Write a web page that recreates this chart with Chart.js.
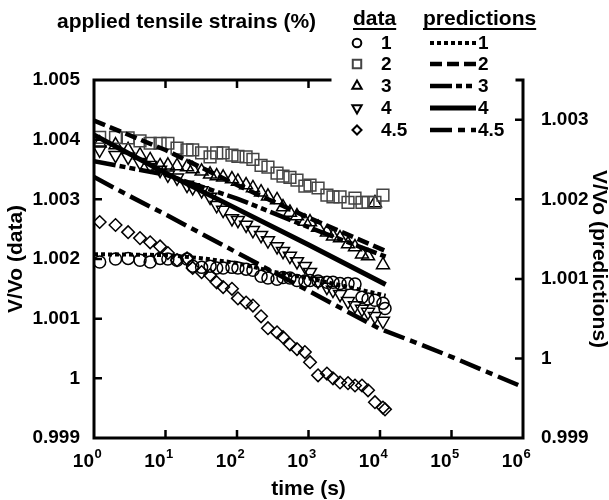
<!DOCTYPE html>
<html>
<head>
<meta charset="utf-8">
<script src="https://cdn.jsdelivr.net/npm/chart.js@4.4.0/dist/chart.umd.min.js"></script>
<style>
  html, body { margin: 0; padding: 0; background: #fff; }
  canvas { display: block; }
</style>
</head>
<body>
<canvas id="chart" width="609" height="500"></canvas>
<script>
// --- DATA ---
// measurement times (s), shared by all strain series
const times = [1.2, 2, 3, 4.4, 6.1, 8.4, 10.8, 14.5, 20, 24, 32, 42, 52, 64, 85, 103, 134, 167, 217, 271,
  363, 440, 550, 690, 890, 1050, 1360, 1810, 2200, 2760, 3570, 4470, 5600, 6800, 8500, 11000, 11750];

// measured V/Vo, left axis
const strain1 = [1.00195, 1.00200, 1.00201, 1.00198, 1.00195, 1.00201, 1.00200, 1.00198, 1.00200, 1.00188,
  1.00186, 1.00188, 1.00185, 1.00185, 1.00186, 1.00185, 1.00183, 1.00181, 1.00171, 1.00168,
  1.00166, 1.00169, 1.00168, 1.00164, 1.00163, 1.00164, 1.00163, 1.00161, 1.00161, 1.00159,
  1.00159, 1.00158, 1.00136, 1.00133, 1.00131, 1.00126, 1.00117];
const strain2 = [1.00404, 1.00404, 1.00403, 1.00398, 1.00394, 1.00394, 1.00394, 1.00386, 1.00383, 1.00383,
  1.00378, 1.00371, 1.00378, 1.00378, 1.00374, 1.00372, 1.00371, 1.00367, 1.00357, 1.00354,
  1.00344, 1.00339, 1.00337, 1.00332, 1.00322, 1.00324, 1.00319, 1.00307, 1.00304, 1.00304,
  1.00295, 1.00302, 1.00295, 1.00295, 1.00295, 1.00307, null];
const strain3 = [1.00394, 1.00391, 1.00383, 1.00374, 1.00366, 1.00356, 1.00357, 1.00356, 1.00354, 1.00351,
  1.00347, 1.00342, 1.00339, 1.00337, 1.00334, 1.00330, 1.00324, 1.00319, 1.00312, 1.00305,
  1.00299, 1.00287, 1.00278, 1.00272, 1.00263, 1.00262, 1.00253, 1.00245, 1.00238, 1.00235,
  1.00225, 1.00220, 1.00208, 1.00205, 1.00294, 1.00190, null];
const strain4 = [1.00383, 1.00374, 1.00371, 1.00362, 1.00357, 1.00349, 1.00341, 1.00336, 1.00324, 1.00320,
  1.00315, 1.00304, 1.00290, 1.00282, 1.00268, 1.00265, 1.00257, 1.00248, 1.00240, 1.00231,
  1.00221, 1.00213, 1.00205, 1.00196, 1.00188, 1.00178, 1.00163, 1.00153, 1.00148, 1.00141,
  1.00129, 1.00122, 1.00116, 1.00111, 1.00104, 1.00096, null];
const strain45 = [1.00262, 1.00257, 1.00245, 1.00235, 1.00228, 1.00221, 1.00210, 1.00198, 1.00201, 1.00185,
  1.00178, 1.00173, 1.00161, 1.00153, 1.00150, 1.00134, 1.00127, 1.00122, 1.00104, 1.00084,
  1.00077, 1.00069, 1.00057, 1.00049, 1.00044, 1.00027, 1.00005, 1.00008, 1.00000, 0.99993,
  0.99992, 0.99988, 0.99988, 0.99980, 0.99960, 0.99951, 0.99948];

// predicted V/Vo, right axis
const predTimes1 = [1, 10, 31.6, 100, 316, 1000, 3160, 12000];
const pred1 = [1.00131, 1.00130, 1.00126, 1.00120, 1.00109, 1.00101, 1.00091, 1.00079];
const predTimes = [1, 10, 100, 1000, 12000];
const pred2 = [1.00299, 1.00262, 1.00218, 1.00177, 1.00135];
const pred3 = [1.00248, 1.00231, 1.00201, 1.00165, 1.00128];
const pred4 = [1.00281, 1.00233, 1.00188, 1.00143, 1.00093];
const predTimes45 = [1, 3.16, 10, 31.6, 100, 316, 1000, 3160, 10000, 31600, 100000, 316000, 1000000];
const pred45 = [1.00228, 1.00204, 1.00181, 1.00157, 1.00133, 1.00109, 1.00085, 1.00061, 1.00037,
  1.00020, 1.00002, 0.99983, 0.99964];

const strainLabels = ["1", "2", "3", "4", "4.5"];
const xExponents = [0, 1, 2, 3, 4, 5, 6];
const leftTicks = [0.999, 1, 1.001, 1.002, 1.003, 1.004, 1.005];
const rightTicks = [0.999, 1, 1.001, 1.002, 1.003];

// --- HELPERS ---
const FONT = '"Liberation Sans", Arial, sans-serif';
const pts = (xs, ys) => xs.map((x, i) => ({ x: x, y: ys[i] })).filter(p => p.y !== null);

function marker(label, ys, style, radius, rotation, color) {
  return {
    label: label, data: pts(times, ys), yAxisID: 'y', showLine: false,
    pointStyle: style, pointRadius: radius, pointRotation: rotation || 0,
    pointBorderColor: color || '#000', pointBackgroundColor: 'rgba(0,0,0,0)',
    pointBorderWidth: 1.5, legendRadius: radius * 0.72
  };
}
function prediction(label, xs, ys, dash, width) {
  return {
    label: label, data: pts(xs, ys), yAxisID: 'y2', showLine: true,
    borderColor: '#000', borderWidth: width, borderDash: dash,
    pointRadius: 0, tension: 0, fill: false
  };
}

// lines first so they sit on top of the markers
const lineSets = [
  prediction('1', predTimes1, pred1, [4, 3], 4),
  prediction('2', predTimes, pred2, [12, 5], 4.5),
  prediction('3', predTimes, pred3, [22, 4, 6, 4, 6, 4], 4.5),
  prediction('4', predTimes, pred4, [], 5),
  prediction('4.5', predTimes45, pred45, [22, 6, 7, 6], 4.5)
];
const markerSets = [
  marker('1', strain1, 'circle', 6),
  marker('2', strain2, 'rect', 8.3, 0, '#444'),
  marker('3', strain3, 'triangle', 7.5),
  marker('4', strain4, 'triangle', 7.5, 180),
  marker('4.5', strain45, 'rectRot', 6.3)
];

// --- FRAME, TICKS, LEGEND ---
const decor = {
  id: 'decor',
  afterDatasetsDraw(chart) {
    const { ctx, chartArea: a, scales } = chart;
    const gapL = 330, gapR = 517;
    ctx.save();
    ctx.strokeStyle = '#000';
    ctx.fillStyle = '#000';
    ctx.lineWidth = 3;
    ctx.lineCap = 'square';
    ctx.beginPath();
    ctx.moveTo(gapL, a.top); ctx.lineTo(a.left, a.top); ctx.lineTo(a.left, a.bottom);
    ctx.lineTo(a.right, a.bottom); ctx.lineTo(a.right, a.top); ctx.lineTo(gapR, a.top);
    ctx.stroke();

    // inward ticks
    ctx.lineCap = 'butt';
    ctx.lineWidth = 2.5;
    ctx.beginPath();
    xExponents.forEach(e => {
      const px = scales.x.getPixelForValue(Math.pow(10, e));
      if (px <= a.left + 1 || px >= a.right - 1) return;
      ctx.moveTo(px, a.bottom); ctx.lineTo(px, a.bottom - 8);
      if (px < gapL || px > gapR) { ctx.moveTo(px, a.top); ctx.lineTo(px, a.top + 8); }
    });
    leftTicks.forEach(v => {
      const py = scales.y.getPixelForValue(v);
      if (py <= a.top + 1 || py >= a.bottom - 1) return;
      ctx.moveTo(a.left, py); ctx.lineTo(a.left + 8, py);
    });
    rightTicks.forEach(v => {
      const py = scales.y2.getPixelForValue(v);
      if (py <= a.top + 1 || py >= a.bottom - 1) return;
      ctx.moveTo(a.right, py); ctx.lineTo(a.right - 8, py);
    });
    ctx.stroke();

    // x tick labels: 10 with superscript exponent
    xExponents.forEach(e => {
      const px = scales.x.getPixelForValue(Math.pow(10, e));
      ctx.font = 'bold 19px ' + FONT;
      ctx.textAlign = 'right';
      ctx.textBaseline = 'alphabetic';
      ctx.fillText('10', px, 467);
      ctx.font = 'bold 13px ' + FONT;
      ctx.textAlign = 'left';
      ctx.fillText(String(e), px + 0.5, 458);
    });

    // title and legend
    ctx.textAlign = 'left';
    ctx.textBaseline = 'alphabetic';
    ctx.font = 'bold 21px ' + FONT;
    ctx.fillText('applied tensile strains (%)', 57, 28);
    const heads = [['data', 353], ['predictions', 423]];
    ctx.lineWidth = 2;
    heads.forEach(([t, x]) => {
      ctx.fillText(t, x, 25);
      const w = ctx.measureText(t).width;
      ctx.beginPath(); ctx.moveTo(x, 29); ctx.lineTo(x + w, 29); ctx.stroke();
    });

    const rowY = [43, 64, 86, 108, 130];
    ctx.font = 'bold 19px ' + FONT;
    ctx.textBaseline = 'middle';
    strainLabels.forEach((lab, i) => {
      const y = rowY[i];
      const m = markerSets[i];
      ctx.save();
      ctx.strokeStyle = m.pointBorderColor;
      ctx.fillStyle = 'rgba(0,0,0,0)';
      Chart.helpers.drawPoint(ctx, {
        pointStyle: m.pointStyle, rotation: m.pointRotation,
        radius: m.legendRadius, borderWidth: 1.3
      }, 357, y);
      ctx.restore();
      ctx.fillText(lab, 381, y + 1);

      const l = lineSets[i];
      ctx.save();
      ctx.lineWidth = l.borderWidth;
      ctx.setLineDash(l.borderDash);
      ctx.beginPath(); ctx.moveTo(430, y); ctx.lineTo(476, y); ctx.stroke();
      ctx.restore();
      ctx.fillText(lab, 478, y + 1);
    });
    ctx.restore();
  }
};

const tickFmt = v => String(+Number(v).toFixed(3));

new Chart(document.getElementById('chart'), {
  type: 'scatter',
  data: { datasets: lineSets.concat(markerSets) },
  options: {
    responsive: false,
    animation: false,
    devicePixelRatio: 1,
    layout: { padding: { top: 80, left: 0, right: 0, bottom: 0 } },
    plugins: { legend: { display: false }, tooltip: { enabled: false } },
    scales: {
      x: {
        type: 'logarithmic', position: 'bottom', min: 1, max: 1000000,
        grid: { display: false }, border: { display: false },
        ticks: { display: false },
        afterFit: s => { s.height = 62; },
        title: {
          display: true, text: 'time (s)', color: '#000',
          font: { family: FONT, size: 21, weight: 'bold', lineHeight: 1 },
          padding: { top: 0, bottom: 0 }
        }
      },
      y: {
        type: 'linear', position: 'left', min: 0.999, max: 1.005,
        grid: { display: false }, border: { display: false },
        afterBuildTicks: s => { s.ticks = leftTicks.map(v => ({ value: v })); },
        afterFit: s => { s.width = 94; },
        ticks: {
          color: '#000', padding: 6, callback: tickFmt,
          font: { family: FONT, size: 19, weight: 'bold' }
        },
        title: {
          display: true, text: 'V/Vo (data)', color: '#000',
          font: { family: FONT, size: 21, weight: 'bold', lineHeight: 1 },
          padding: { top: 6, bottom: 0 }
        }
      },
      y2: {
        type: 'linear', position: 'right', min: 0.999, max: 1.0035,
        grid: { display: false }, border: { display: false },
        afterBuildTicks: s => { s.ticks = rightTicks.map(v => ({ value: v })); },
        afterFit: s => { s.width = 86; },
        ticks: {
          color: '#000', padding: 10, callback: tickFmt,
          font: { family: FONT, size: 19, weight: 'bold' }
        },
        title: {
          display: true, text: 'V/Vo (predictions)', color: '#000',
          font: { family: FONT, size: 21, weight: 'bold', lineHeight: 1 },
          padding: { top: 0, bottom: 0 }
        }
      }
    }
  },
  plugins: [decor]
});
</script>
</body>
</html>
